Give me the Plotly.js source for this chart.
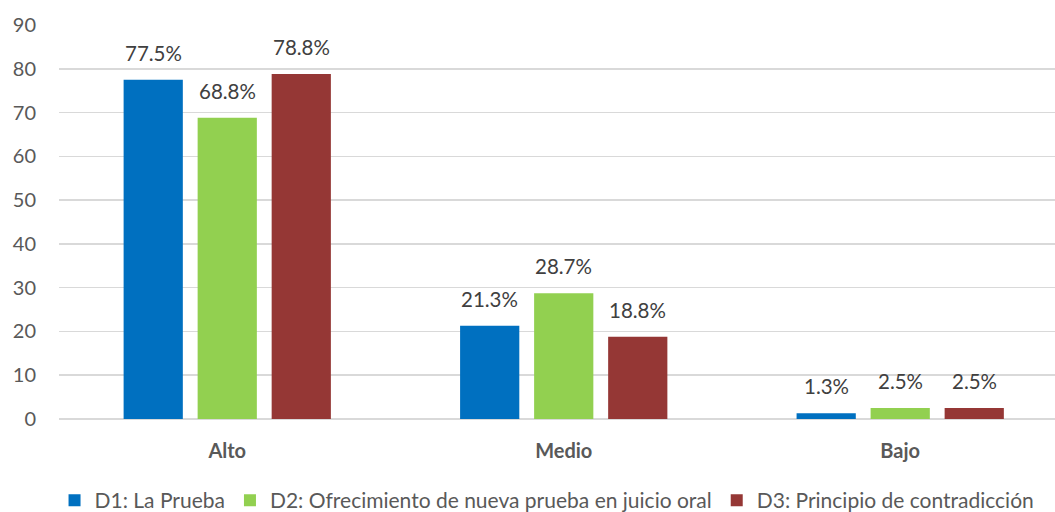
<!DOCTYPE html>
<html>
<head>
<meta charset="utf-8">
<script src="https://cdn.plot.ly/plotly-3.0.1.min.js"></script>
<style>html,body{margin:0;padding:0;background:#fff;}#chart{width:1055px;height:512px;}</style>
</head>
<body>
<div id="chart"></div>
<script>
const categories = ["Alto", "Medio", "Bajo"];
const seriesNames = ["D1: La Prueba", "D2: Ofrecimiento de nueva prueba en juicio oral", "D3: Principio de contradicción"];
const d1 = [77.5, 21.3, 1.3];
const d2 = [68.8, 28.7, 2.5];
const d3 = [78.8, 18.8, 2.5];
const colors = ["#0070C0", "#92D050", "#953735"];
const yTicks = [0, 10, 20, 30, 40, 50, 60, 70, 80, 90];

const FONT = "Lato, 'Open Sans', sans-serif";
const series = [d1, d2, d3];
const traces = series.map((vals, i) => ({
  type: "bar",
  name: seriesNames[i],
  x: categories,
  y: vals,
  marker: {color: colors[i]},
  hoverinfo: "skip"
}));

const annotations = [];
series.forEach((vals, i) => {
  vals.forEach((v, j) => {
    annotations.push({
      x: categories[j], y: v, xref: "x", yref: "y",
      xshift: (i - 1) * 74, yshift: 13,
      yanchor: "bottom", xanchor: "center",
      text: v.toFixed(1) + "%", showarrow: false,
      font: {family: FONT, size: 20.5, color: "#404040"}
    });
  });
});

const layout = {
  width: 1055, height: 512,
  margin: {l: 59, r: 0, t: 25, b: 93, autoexpand: false},
  paper_bgcolor: "#fff", plot_bgcolor: "#fff",
  font: {family: FONT, size: 20, color: "#595959"},
  barmode: "group",
  bargap: 0.34,
  bargroupgap: 0.2,
  showlegend: true,
  annotations: annotations,
  legend: {orientation: "h", x: 0.49, xanchor: "center", y: -0.155, yanchor: "top",
           font: {family: FONT, size: 21, color: "#595959"}, traceorder: "normal", itemwidth: 30},
  xaxis: {
    type: "category",
    range: [-0.5, 2.46],
    showgrid: false, zeroline: false, showline: false,
    ticks: "", ticklabelstandoff: 18,
    tickfont: {family: FONT, size: 20, color: "#595959", weight: "bold"}
  },
  yaxis: {
    range: [0, 90],
    tickvals: yTicks,
    ticktext: yTicks.map(String),
    showgrid: true, gridcolor: "#d9d9d9", gridwidth: 1.5,
    zeroline: true, zerolinecolor: "#d9d9d9", zerolinewidth: 2,
    showline: false, ticks: "", ticklabelstandoff: 22,
    tickfont: {family: FONT, size: 20, color: "#595959"}
  }
};

Plotly.newPlot("chart", traces, layout, {displayModeBar: false, staticPlot: true});
</script>
</body>
</html>
